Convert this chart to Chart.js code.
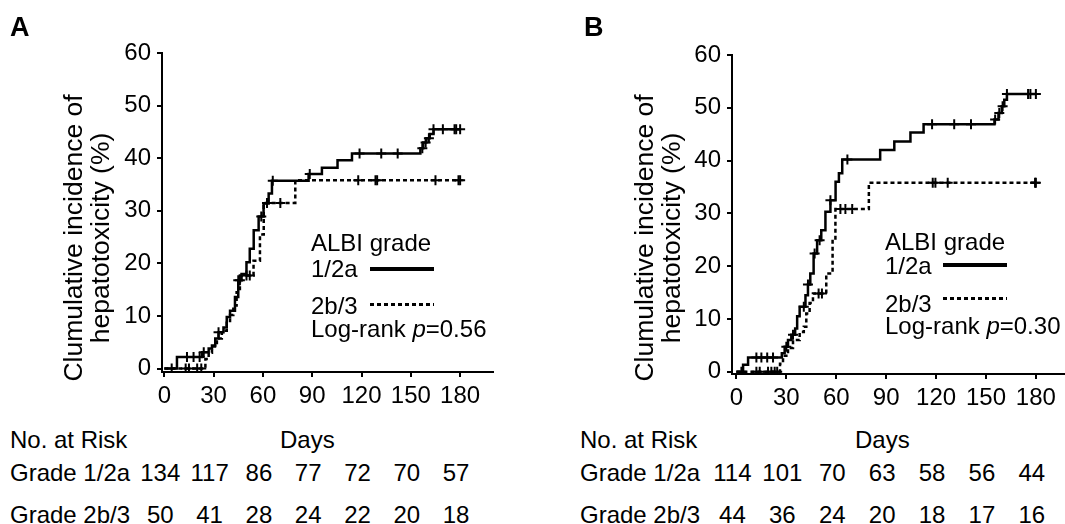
<!DOCTYPE html>
<html>
<head>
<meta charset="utf-8">
<title>Cumulative incidence of hepatotoxicity by ALBI grade</title>
<script src="https://cdn.jsdelivr.net/npm/chart.js@4.4.1/dist/chart.umd.min.js"></script>
<style>
	body { margin: 0; background: #fff; }
	#page { position: relative; width: 1065px; height: 524px; overflow: hidden; font-family: "Liberation Sans", Arial, sans-serif; color: #000; }
	canvas { position: absolute; top: 0; }
	.txt { position: absolute; white-space: nowrap; font-size: 24px; line-height: 24px; }
	.num { transform: translateX(-50%); }
	.tag { position: absolute; font-size: 27px; line-height: 27px; font-weight: bold; }
	.ytitle { position: absolute; width: 360px; height: 54px; font-size: 26.5px; line-height: 27px; text-align: center; white-space: nowrap; transform: rotate(-90deg); }
	.solid { position: absolute; width: 64px; height: 4px; background: #000; }
	.dots { position: absolute; width: 64px; height: 3px; background: repeating-linear-gradient(to right, #000 0 4px, transparent 4px 7px); }
</style>
</head>
<body>
<div id="page">
	<canvas id="chartA" width="530" height="420" style="left:0px"></canvas>
	<canvas id="chartB" width="530" height="420" style="left:570px"></canvas>

	<div class="tag" style="left:10px;top:14px">A</div>
	<div class="tag" style="left:584px;top:14px">B</div>

	<div class="ytitle" style="left:-93px;top:211px">Clumulative incidence of<br>hepatotoxicity (%)</div>
	<div class="ytitle" style="left:478px;top:211px">Clumulative incidence of<br>hepatotoxicity (%)</div>

	<!-- legend A -->
	<div class="txt" style="left:311px;top:231px">ALBI grade</div>
	<div class="txt" style="left:311px;top:257px">1/2a</div>
	<div class="solid" style="left:370px;top:267px"></div>
	<div class="txt" style="left:311px;top:294px">2b/3</div>
	<div class="dots" style="left:370px;top:303px"></div>
	<div class="txt" id="pA" style="left:311px;top:317px"></div>

	<!-- legend B -->
	<div class="txt" style="left:885px;top:230px">ALBI grade</div>
	<div class="txt" style="left:885px;top:254px">1/2a</div>
	<div class="solid" style="left:943px;top:263px"></div>
	<div class="txt" style="left:885px;top:292px">2b/3</div>
	<div class="dots" style="left:943px;top:297px"></div>
	<div class="txt" id="pB" style="left:885px;top:314px"></div>

	<!-- number at risk labels -->
	<div class="txt" style="left:10px;top:428px">No. at Risk</div>
	<div class="txt" style="left:280px;top:428px">Days</div>
	<div class="txt" style="left:10px;top:461px">Grade 1/2a</div>
	<div class="txt" style="left:10px;top:503px">Grade 2b/3</div>

	<div class="txt" style="left:580px;top:428px">No. at Risk</div>
	<div class="txt" style="left:855px;top:428px">Days</div>
	<div class="txt" style="left:580px;top:461px">Grade 1/2a</div>
	<div class="txt" style="left:580px;top:503px">Grade 2b/3</div>
</div>

<script>
var dayTicks = [0, 30, 60, 90, 120, 150, 180];
var incTicks = [0, 10, 20, 30, 40, 50, 60];

// Panel A - step points (day, cumulative %) and censored days
var aSolidDays = [0, 7.7, 23, 27, 29, 31, 33, 36, 38, 40, 43, 45, 47, 50, 52, 54.4, 57.4, 60.4, 63.5, 65.5, 87.8, 95.9, 105.4, 114.2, 155.8, 157.5, 159.5, 161.5, 163.8, 180];
var aSolidInc = [0, 2.2, 3.1, 3.8, 4.4, 5.7, 6.9, 7.8, 9.8, 11, 13.6, 16.8, 18, 20.2, 22.8, 26.3, 28.9, 31.4, 33.3, 35.7, 37, 38.2, 39.6, 40.9, 41.9, 43, 43.8, 44.6, 45.5, 45.5];
var aSolidCens = [4.5, 13.8, 17.8, 21.5, 24, 33, 45, 46, 59, 66, 88.5, 118.8, 132, 142, 157, 159, 161, 163.8, 169.5, 176.6, 177.6, 180];

var aDashDays = [0, 25, 27, 29, 32, 35, 38, 40, 42, 44, 46, 54.3, 58.2, 60.5, 79.7, 180];
var aDashInc = [0, 1.8, 3.0, 4.2, 5.7, 7.2, 8.7, 10.2, 12, 14.5, 17.7, 20.5, 25.5, 31.5, 35.8, 35.8];
var aDashCens = [13, 15, 20, 22.5, 50, 52, 62.5, 70.6, 118, 128.5, 129.5, 165, 179, 180];

// Panel B
var bSolidDays = [0, 4, 7, 27.3, 29, 31, 33, 35.3, 36.5, 38, 41.5, 43, 44.4, 46.4, 48.5, 51, 53.5, 56.5, 59.6, 61.6, 63.6, 86.4, 94.9, 104.6, 112.5, 155.1, 157.5, 159.5, 161, 162.6, 180];
var bSolidInc = [0, 1.3, 2.7, 3.5, 4.7, 6.0, 7.0, 8.2, 10.5, 12.3, 14.5, 16.5, 18.6, 22.4, 24.9, 26.8, 30.3, 32.5, 36, 37.6, 40.2, 42, 43.6, 45.3, 46.9, 47.8, 49, 50.3, 51.5, 52.6, 52.6];
var bSolidCens = [3, 12, 15, 18.5, 22, 30, 34, 40.5, 43, 47, 50, 56.5, 66.7, 117.6, 130.9, 141, 155.5, 158, 160, 162.6, 175.3, 176.7, 180];

var bDashDays = [0, 26.2, 28, 31, 34, 38, 40.5, 42, 44, 46, 54, 57.8, 59.5, 79.6, 180];
var bDashInc = [0, 1.5, 3, 4.5, 6, 7.5, 8.5, 11, 13, 14.8, 18.6, 25, 30.8, 35.8, 35.8];
var bDashCens = [12, 14, 19, 21, 23, 24.5, 49.4, 51.4, 62.5, 65.5, 69.6, 118, 119.6, 127, 179.5, 180];

// number at risk at 0, 30, ... 180 days
var aRisk12a = [134, 117, 86, 77, 72, 70, 57];
var aRisk2b3 = [50, 41, 28, 24, 22, 20, 18];
var bRisk12a = [114, 101, 70, 63, 58, 56, 44];
var bRisk2b3 = [44, 36, 24, 20, 18, 17, 16];

var pValueA = '0.56';
var pValueB = '0.30';

var font = { family: '"Liberation Sans", Arial, sans-serif', size: 24 };

function stepAt(days, inc, d) {
	var v = inc[0];
	for (var i = 0; i < days.length; i++) {
		if (days[i] <= d) v = inc[i];
	}
	return v;
}

// each point holds its value until the next event day
function curve(days, inc, dash) {
	return {
		data: days.map(function (d, i) { return { x: d, y: inc[i] }; }),
		stepped: 'before',
		borderColor: '#000',
		borderWidth: 2.5,
		borderDash: dash,
		pointRadius: 0,
		fill: false
	};
}

function censors(cens, days, inc) {
	return {
		data: cens.map(function (d) { return { x: d, y: stepAt(days, inc, d) }; }),
		showLine: false,
		pointStyle: 'cross',
		pointRadius: 5,
		borderColor: '#000',
		borderWidth: 2
	};
}

function makeChart(id, datasets, box) {
	var ctx = document.getElementById(id).getContext('2d');
	return new Chart(ctx, {
		type: 'line',
		data: { datasets: datasets },
		options: {
			responsive: false,
			animation: false,
			events: [],
			layout: { padding: { left: 0, top: box.top, right: box.right, bottom: box.bottom } },
			plugins: { legend: { display: false }, tooltip: { enabled: false } },
			scales: {
				x: {
					type: 'linear',
					min: box.xMin,
					max: box.xMax,
					afterBuildTicks: function (s) { s.ticks = dayTicks.map(function (v) { return { value: v }; }); },
					afterFit: function (s) { s.height = 40; },
					grid: { drawOnChartArea: false, drawTicks: true, tickLength: 5, color: '#000', lineWidth: 2 },
					border: { display: true, color: '#000', width: 2 },
					ticks: { color: '#000', font: font, padding: 5, maxRotation: 0, autoSkip: false }
				},
				y: {
					type: 'linear',
					min: box.yMin,
					max: 60,
					afterBuildTicks: function (s) { s.ticks = incTicks.map(function (v) { return { value: v }; }); },
					afterFit: function (s) { s.width = box.axisLeft; },
					grid: { drawOnChartArea: false, drawTicks: true, tickLength: 5, color: '#000', lineWidth: 2 },
					border: { display: true, color: '#000', width: 2 },
					ticks: { color: '#000', font: font, padding: 6, autoSkip: false }
				}
			}
		}
	});
}

var chartA = makeChart('chartA', [
	curve(aSolidDays, aSolidInc, []),
	curve(aDashDays, aDashInc, [4, 3]),
	censors(aSolidCens, aSolidDays, aSolidInc),
	censors(aDashCens, aDashDays, aDashInc)
], { top: 53, right: 37, bottom: 8, axisLeft: 162, xMin: -1.4, xMax: 200, yMin: -0.65 });

var chartB = makeChart('chartB', [
	curve(bSolidDays, bSolidInc, []),
	curve(bDashDays, bDashInc, [4, 3]),
	censors(bSolidCens, bSolidDays, bSolidInc),
	censors(bDashCens, bDashDays, bDashInc)
], { top: 55, right: 35, bottom: 6, axisLeft: 162, xMin: -2.66, xMax: 197.5, yMin: -0.44 });

document.getElementById('pA').innerHTML = 'Log-rank <i>p</i>=' + pValueA;
document.getElementById('pB').innerHTML = 'Log-rank <i>p</i>=' + pValueB;

var page = document.getElementById('page');
function placeRow(chart, left, values, top) {
	values.forEach(function (v, i) {
		var el = document.createElement('div');
		el.className = 'txt num';
		el.textContent = v;
		el.style.left = (left + chart.scales.x.getPixelForValue(dayTicks[i]) - 4) + 'px';
		el.style.top = top + 'px';
		page.appendChild(el);
	});
}
placeRow(chartA, 0, aRisk12a, 461);
placeRow(chartA, 0, aRisk2b3, 503);
placeRow(chartB, 570, bRisk12a, 461);
placeRow(chartB, 570, bRisk2b3, 503);
</script>
</body>
</html>
